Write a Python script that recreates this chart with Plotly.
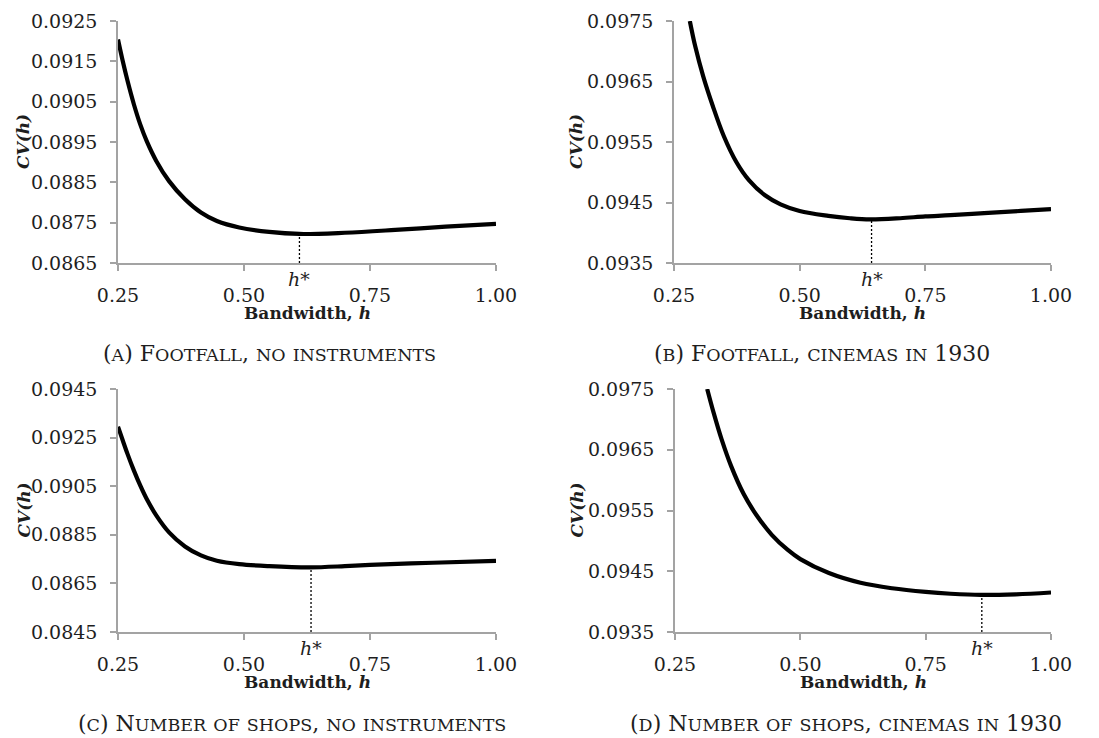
import plotly.graph_objects as go

# The page body has an 8px default margin, so the figure is placed 8px right/down.
WIN_W, WIN_H, OFF = 1099, 738, 8
W, H = WIN_W - OFF, WIN_H - OFF

# ---------------- data ----------------
A_h = [0.25, 0.2595, 0.269, 0.2816, 0.2943, 0.307, 0.3259, 0.3513, 0.3829, 0.4146, 0.4462, 0.4905,
       0.55, 0.61, 0.70, 0.80, 0.90, 1.00]
A_cv = [0.09204, 0.0915, 0.09101, 0.09043, 0.08993, 0.08952, 0.08903, 0.08853, 0.08808, 0.08775,
        0.08754, 0.08738, 0.08727, 0.08722, 0.08725, 0.08732, 0.08740, 0.08747]

B_h = [0.2815, 0.292, 0.308, 0.327, 0.349, 0.374, 0.399, 0.431, 0.462, 0.50, 0.557, 0.60, 0.64,
       0.70, 0.75, 0.80, 0.875, 0.94, 1.00]
B_cv = [0.0975, 0.09709, 0.09659, 0.09610, 0.09560, 0.09517, 0.09487, 0.09462, 0.09447, 0.09436,
        0.09428, 0.09424, 0.09422, 0.09424, 0.09427, 0.09429, 0.09433, 0.09436, 0.09439]

C_h = [0.25, 0.2595, 0.269, 0.2816, 0.2943, 0.307, 0.3259, 0.3513, 0.3829, 0.4146, 0.4462, 0.4905,
       0.55, 0.63, 0.70, 0.75, 0.875, 1.00]
C_cv = [0.09295, 0.09238, 0.09182, 0.09114, 0.09052, 0.08997, 0.0893, 0.0886, 0.08802, 0.08765,
        0.08743, 0.08729, 0.08721, 0.08716, 0.08721, 0.08726, 0.08735, 0.08743]

D_h = [0.3142, 0.327, 0.343, 0.362, 0.387, 0.412, 0.443, 0.475, 0.50, 0.557, 0.62, 0.683, 0.75,
       0.80, 0.86, 0.93, 1.00]
D_cv = [0.0975, 0.09711, 0.09667, 0.09623, 0.09577, 0.09543, 0.0951, 0.09485, 0.0947, 0.09447,
        0.09431, 0.09422, 0.09416, 0.09413, 0.09411, 0.09412, 0.09415]

h_star = [0.61, 0.643, 0.633, 0.862]
cv_at_h_star = [0.08722, 0.09422, 0.08716, 0.09411]

x_tickvals = [0.25, 0.50, 0.75, 1.00]
x_ticktext = ["0.25", "0.50", "0.75", "1.00"]

y_ranges = [[0.0865, 0.0925], [0.0935, 0.0975], [0.0845, 0.0945], [0.0935, 0.0975]]
y_tickvals = [
    [0.0865, 0.0875, 0.0885, 0.0895, 0.0905, 0.0915, 0.0925],
    [0.0935, 0.0945, 0.0955, 0.0965, 0.0975],
    [0.0845, 0.0865, 0.0885, 0.0905, 0.0925, 0.0945],
    [0.0935, 0.0945, 0.0955, 0.0965, 0.0975],
]
y_ticktext = [[f"{v:.4f}" for v in tv] for tv in y_tickvals]

captions = [
    "(a) Footfall, no instruments",
    "(b) Footfall, cinemas in 1930",
    "(c) Number of shops, no instruments",
    "(d) Number of shops, cinemas in 1930",
]
x_title = "<b>Bandwidth, <i>h</i></b>"
y_title = "<b><i>CV(h)</i></b>"
h_star_label = "<i>h</i>*"

series = [(A_h, A_cv), (B_h, B_cv), (C_h, C_cv), (D_h, D_cv)]

# ---------------- layout geometry (window pixels) ----------------
boxes = [(118, 496, 21, 263), (674, 1051, 21, 263), (118, 496, 389, 632), (675, 1051, 389, 632)]
ytitle_x = [23, 576, 23, 576]
caption_cx = [269, 822, 292, 846]


def fx(px):
    return (px - OFF) / W


def fy(py):
    return 1 - (py - OFF) / H


def small_caps(text, small=17.5):
    out, run = [], ""
    for ch in text:
        if ch.islower():
            run += ch.upper()
        else:
            if run:
                out.append(f"<span style='font-size:{small}px'>{run}</span>")
                run = ""
            out.append(ch)
    if run:
        out.append(f"<span style='font-size:{small}px'>{run}</span>")
    return "".join(out)


SERIF = "DejaVu Serif, serif"
AXIS_GRAY = "#a3a3a3"
TEXT = "#1e1e1e"

fig = go.Figure()
layout = dict(
    width=W, height=H,
    margin=dict(l=0, r=0, t=0, b=0),
    paper_bgcolor="white", plot_bgcolor="white",
    showlegend=False,
    font=dict(family=SERIF, color=TEXT),
)
annotations = []

for i, ((hx, cv), (l, r, t, b)) in enumerate(zip(series, boxes)):
    n = "" if i == 0 else str(i + 1)
    xa, ya = "x" + n, "y" + n
    fig.add_trace(go.Scatter(
        x=hx, y=cv, xaxis=xa, yaxis=ya, mode="lines",
        line=dict(color="black", width=4.2, shape="spline", smoothing=1.0),
        hoverinfo="skip",
    ))
    fig.add_trace(go.Scatter(
        x=[h_star[i], h_star[i]], y=[y_ranges[i][0], cv_at_h_star[i]],
        xaxis=xa, yaxis=ya, mode="lines",
        line=dict(color="black", width=1.3, dash="2px,2px"),
        hoverinfo="skip",
    ))
    layout["xaxis" + n] = dict(
        domain=[fx(l), fx(r)], anchor=ya, range=[0.25, 1.0],
        tickvals=x_tickvals, ticktext=x_ticktext,
        showgrid=False, zeroline=False,
        showline=True, linecolor=AXIS_GRAY, linewidth=1.5,
        ticks="outside", ticklen=6, tickcolor=AXIS_GRAY, tickwidth=1.5,
        tickfont=dict(family=SERIF, size=19, color=TEXT),
        ticklabelstandoff=8, automargin=False,
    )
    layout["yaxis" + n] = dict(
        domain=[fy(b), fy(t)], anchor=xa, range=y_ranges[i],
        tickvals=y_tickvals[i], ticktext=y_ticktext[i],
        showgrid=False, zeroline=False,
        showline=True, linecolor=AXIS_GRAY, linewidth=1.5,
        ticks="outside", ticklen=6, tickcolor=AXIS_GRAY, tickwidth=1.5,
        tickfont=dict(family=SERIF, size=19, color=TEXT),
        ticklabelstandoff=9, automargin=False,
    )
    annotations.append(dict(
        x=h_star[i], xref=xa, y=fy(b + 16), yref="paper",
        text=h_star_label, showarrow=False, xanchor="center", yanchor="middle",
        font=dict(family=SERIF, size=19, color=TEXT),
    ))
    annotations.append(dict(
        x=fx((l + r) / 2), xref="paper", y=fy(b + 50), yref="paper",
        text=x_title, showarrow=False, xanchor="center", yanchor="middle",
        font=dict(family=SERIF, size=17, color=TEXT),
    ))
    annotations.append(dict(
        x=fx(ytitle_x[i]), xref="paper", y=fy((t + b) / 2), yref="paper",
        text=y_title, showarrow=False, xanchor="center", yanchor="middle",
        textangle=-90,
        font=dict(family=SERIF, size=17, color=TEXT),
    ))
    annotations.append(dict(
        x=fx(caption_cx[i]), xref="paper", y=fy(b + 91), yref="paper",
        text=small_caps(captions[i]), showarrow=False, xanchor="center", yanchor="middle",
        font=dict(family=SERIF, size=22, color=TEXT),
    ))

layout["annotations"] = annotations
fig.update_layout(**layout)
fig.write_html("out.html")
